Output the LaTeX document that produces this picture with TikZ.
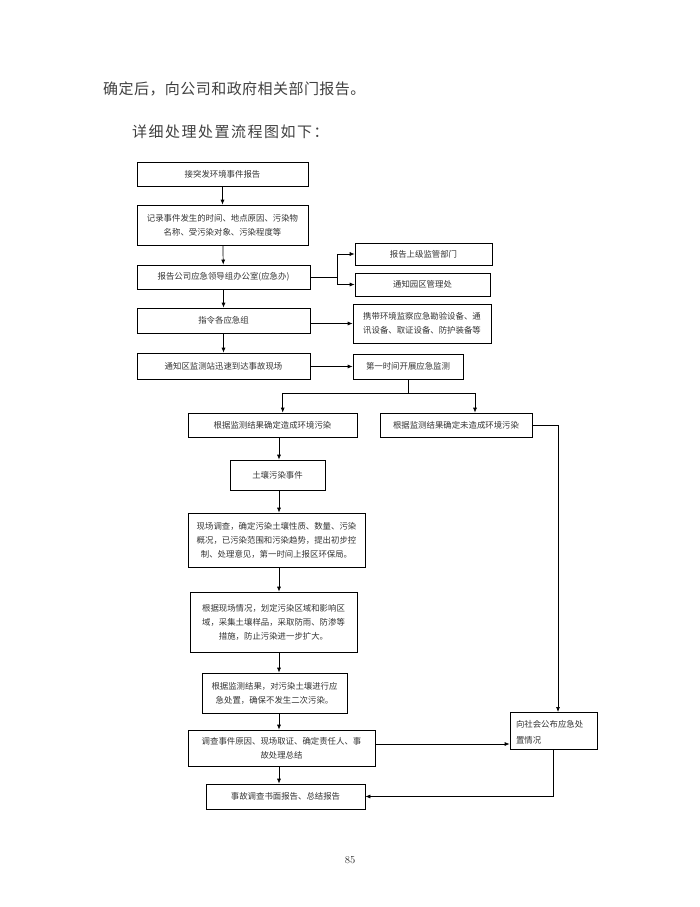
\documentclass[tikz,border=0pt]{standalone}
\usepackage{fontspec}
\newfontfamily\cjk{Noto Sans CJK SC}
\newfontfamily\cjktitle[LetterSpace=3]{Noto Sans CJK SC}
\newfontfamily\cjkwide[LetterSpace=10]{Noto Sans CJK SC}
\usetikzlibrary{arrows.meta}

\begin{document}
\begin{tikzpicture}[x=1pt, y=-1pt,
    box/.style={draw, line width=0.7pt, inner sep=2pt, align=center,
      font=\cjk\fontsize{8.4}{14}\selectfont, text=black!80},
    arr/.style={-{Latex[length=5pt, width=4pt]}, line width=0.7pt}]
      \useasboundingbox (0,0) rectangle (700,907);

      % Draw the heading lines
      \node[anchor=west, inner sep=0pt, font=\cjktitle\fontsize{15}{18}\selectfont, text=black!75]
        (t1) at (103,89) {确定后，向公司和政府相关部门报告。};
      \node[anchor=west, inner sep=0pt, font=\cjkwide\fontsize{15}{18}\selectfont, text=black!75]
        (t2) at (132,132) {详细处理处置流程图如下：};

      % Draw the boxes of the upper column
      \node[box, minimum width=171, minimum height=24] (n1) at (222.5,174) {接突发环境事件报告};
      \node[box, minimum width=171, minimum height=40] (n2) at (222.5,225)
        {记录事件发生的时间、地点原因、污染物\\名称、受污染对象、污染程度等};
      \node[box, minimum width=173, minimum height=24] (n3) at (223.5,277) {报告公司应急领导组办公室(应急办)};
      \node[box, minimum width=137, minimum height=22] (n4) at (423.5,254) {报告上级监管部门};
      \node[box, minimum width=135, minimum height=23] (n5) at (422.5,284.5) {通知园区管理处};
      \node[box, minimum width=173, minimum height=25] (n6) at (223.5,320.5) {指令各应急组};
      \node[box, minimum width=138, minimum height=39] (n7) at (422,323.5)
        {携带环境监察应急勘验设备、通\\讯设备、取证设备、防护装备等};
      \node[box, minimum width=173, minimum height=26] (n8) at (223.5,366) {通知区监测站迅速到达事故现场};
      \node[box, minimum width=110, minimum height=25] (n9) at (408,366.5) {第一时间开展应急监测};

      % Draw the boxes of the two branches
      \node[box, minimum width=169, minimum height=24] (n10) at (272.5,425) {根据监测结果确定造成环境污染};
      \node[box, minimum width=152, minimum height=24] (n11) at (456,425) {根据监测结果确定未造成环境污染};
      \node[box, minimum width=95, minimum height=30] (n12) at (277.5,475) {土壤污染事件};
      \node[box, minimum width=177, minimum height=54] (n13) at (276.5,540)
        {现场调查，确定污染土壤性质、数量、污染\\概况，已污染范围和污染趋势，提出初步控\\制、处理意见，第一时间上报区环保局。};
      \node[box, minimum width=167, minimum height=60] (n14) at (273.5,622)
        {根据现场情况，划定污染区域和影响区\\域，采集土壤样品，采取防雨、防渗等\\措施，防止污染进一步扩大。};
      \node[box, minimum width=145, minimum height=40] (n15) at (274.5,693)
        {根据监测结果，对污染土壤进行应\\急处置，确保不发生二次污染。};
      \node[box, minimum width=187, minimum height=36] (n16) at (281.5,748)
        {调查事件原因、现场取证、确定责任人、事\\故处理总结};
      \node[box, minimum width=87, text width=75pt, align=left, inner xsep=5pt, inner ysep=8pt,
        font=\cjk\fontsize{8.4}{16.5}\selectfont, text depth=14pt, anchor=north]
        (n17) at (553.5,712) {向社会公布应急处\\置情况};
      \node[box, minimum width=159, minimum height=25] (n18) at (285.5,796.5) {事故调查书面报告、总结报告};

      % Page number
      \node[font=\fontsize{10.5}{12}\selectfont, text=black!80] (pg) at (350,860) {85};

      % Helper points for the connectors
      \coordinate (s1) at (337,277);
      \coordinate (s2) at (408,393);
      \coordinate (s3) at (282.7,393);
      \coordinate (s4) at (475,393);
      \coordinate (c) at (279,0);
      \coordinate (r) at (558,0);
      \coordinate (s6) at (400,744);

      % Draw the arrows of the upper column
      \draw[arr] (n1) -- (n2);
      \draw[arr] (n2) -- (n3);
      \draw[arr] (n3) -- (n6);
      \draw[arr] (n6) -- (n8);
      \draw[line width=0.7pt] (n3.east) -- (s1);
      \draw[arr] (s1) |- (n4.west);
      \draw[arr] (s1) |- (n5.west);
      \draw[arr] (n6.east |- n7.west) -- (n7.west);
      \draw[arr] (n8.east |- n9.west) -- (n9.west);

      % Draw the split after monitoring
      \draw[line width=0.7pt] (n9.south) -- (s2);
      \draw[line width=0.7pt] (s3) -- (s4);
      \draw[arr] (s3) -- (s3 |- n10.north);
      \draw[arr] (s4) -- (s4 |- n11.north);

      % Draw the arrows of the left column
      \draw[arr] (n10.south -| c) -- (n12.north -| c);
      \draw[arr] (n12.south -| c) -- (n13.north -| c);
      \draw[arr] (n13.south -| c) -- (n14.north -| c);
      \draw[arr] (n14.south -| c) -- (n15.north -| c);
      \draw[arr] (n15.south -| c) -- (n16.north -| c);
      \draw[arr] (n16.south -| c) -- (n18.north -| c);

      % Draw the right-hand path
      \draw[arr] (n11.east) -| (n17.north -| r);
      \draw[arr] (n16.east |- s6) -- (n17.west |- s6);
      \draw[arr] (n17.south) |- (n18.east);
  \end{tikzpicture}
\end{document}
